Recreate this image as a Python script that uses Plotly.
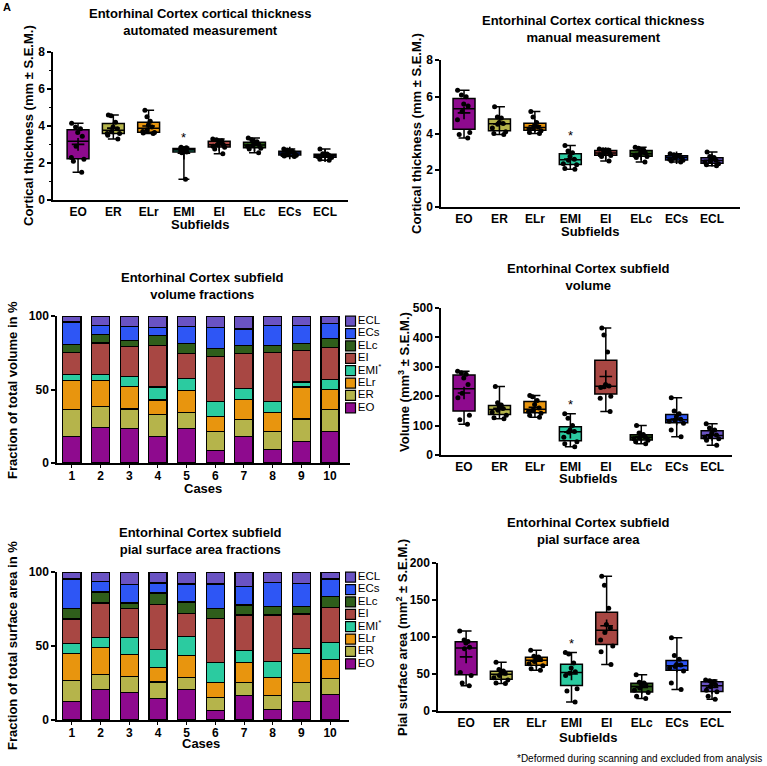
import numpy as np
import plotly.graph_objects as go

W, H = 767, 766
FONT = "Arial, Liberation Sans, Helvetica, sans-serif"

SUBFIELDS = ["EO", "ER", "ELr", "EMI", "EI", "ELc", "ECs", "ECL"]
LEGEND_LABELS = ["EO", "ER", "ELr", "EMI<sup>*</sup>", "EI", "ELc", "ECs", "ECL"]
COLORS = ["#8E0A8E", "#B5B44B", "#E8950E", "#2BCBA0", "#A84743", "#2F5E1B", "#2E56F5", "#6A53C3"]
CASES = [1, 2, 3, 4, 5, 6, 7, 8, 9, 10]

# Cortical thickness, automated (mm), per subfield
THICK_AUTO = [
    [4.15, 3.95, 3.85, 3.65, 3.45, 2.9, 2.3, 2.2, 2.1, 1.5],
    [4.6, 4.55, 4.2, 3.95, 3.85, 3.7, 3.6, 3.6, 3.5, 3.3],
    [4.85, 4.5, 4.25, 4.05, 3.95, 3.8, 3.7, 3.65, 3.62, 3.6],
    [2.85, 2.82, 2.78, 2.72, 2.7, 2.65, 2.6, 2.55, 1.12],
    [3.3, 3.25, 3.2, 3.1, 3.0, 2.98, 2.9, 2.85, 2.75, 2.5],
    [3.35, 3.25, 3.15, 3.05, 3.0, 2.95, 2.9, 2.8, 2.75, 2.55],
    [2.75, 2.7, 2.65, 2.6, 2.55, 2.52, 2.45, 2.42, 2.38, 2.35],
    [2.75, 2.5, 2.48, 2.45, 2.42, 2.4, 2.35, 2.3, 2.2, 2.15],
]
# Cortical thickness, manual (mm)
THICK_MANUAL = [
    [6.35, 6.1, 6.0, 5.6, 5.5, 5.2, 4.75, 4.05, 3.95, 3.75],
    [5.45, 4.9, 4.85, 4.6, 4.55, 4.5, 4.3, 4.1, 4.0, 3.95],
    [5.2, 4.9, 4.6, 4.45, 4.35, 4.3, 4.25, 4.15, 4.05, 4.0],
    [3.35, 3.05, 2.95, 2.75, 2.6, 2.55, 2.35, 2.3, 2.1, 2.05],
    [3.15, 3.12, 3.1, 3.0, 2.95, 2.92, 2.85, 2.8, 2.75, 2.5],
    [3.25, 3.2, 3.1, 3.0, 2.95, 2.85, 2.8, 2.75, 2.7, 2.45],
    [2.9, 2.85, 2.8, 2.75, 2.72, 2.68, 2.6, 2.55, 2.5, 2.45],
    [3.0, 2.75, 2.7, 2.6, 2.55, 2.5, 2.45, 2.35, 2.3, 2.25],
]
# Subfield volume (mm^3)
VOLUME = [
    [285, 280, 275, 262, 240, 210, 195, 135, 120, 105],
    [233, 178, 170, 165, 158, 152, 145, 135, 127, 123],
    [202, 198, 185, 172, 160, 152, 148, 142, 135, 128],
    [140, 125, 100, 85, 80, 78, 60, 45, 38, 28],
    [432, 408, 350, 240, 235, 232, 230, 200, 193, 148],
    [100, 75, 70, 65, 62, 58, 55, 50, 45, 38],
    [195, 150, 140, 130, 122, 118, 115, 108, 85, 62],
    [106, 92, 85, 75, 68, 65, 60, 55, 50, 33],
]
# Pial surface area (mm^2)
SURFACE = [
    [108, 96, 94, 92, 86, 84, 52, 48, 38, 34],
    [66, 56, 54, 53, 51, 48, 45, 42, 38, 37],
    [82, 74, 73, 71, 70, 67, 64, 61, 57, 55],
    [79, 77, 65, 58, 53, 51, 48, 30, 27, 12],
    [182, 170, 139, 117, 112, 106, 96, 88, 80, 63],
    [49, 39, 38, 36, 35, 31, 28, 25, 20, 17],
    [99, 75, 70, 63, 62, 60, 58, 54, 38, 29],
    [42, 41, 40, 38, 35, 33, 28, 26, 20, 16],
]
# Volume fractions (%) per subfield across cases 1..10
VOL_FRAC = [
    [18.3, 24.4, 23.3, 17.8, 23.5, 8.4, 17.8, 9.3, 14.4, 21.7],
    [18.0, 14.2, 13.5, 15.4, 11.0, 13.0, 12.0, 12.4, 15.6, 14.9],
    [19.9, 17.4, 15.3, 9.7, 14.7, 10.4, 13.5, 12.4, 21.7, 13.3],
    [3.8, 4.0, 7.0, 8.8, 8.4, 10.2, 7.5, 7.7, 3.4, 6.8],
    [15.2, 21.7, 20.4, 28.2, 17.1, 30.5, 23.7, 33.4, 21.4, 21.9],
    [5.4, 5.7, 3.8, 6.8, 6.8, 5.4, 5.4, 4.7, 5.0, 6.3],
    [15.3, 6.3, 9.5, 5.6, 11.3, 14.4, 11.3, 13.8, 12.2, 10.1],
    [4.1, 6.3, 7.2, 7.7, 7.2, 7.7, 8.8, 6.3, 6.3, 5.0],
]
# Pial surface area fractions (%)
SURF_FRAC = [
    [12.6, 20.5, 18.7, 14.7, 20.8, 6.3, 16.5, 7.2, 12.6, 17.2],
    [14.0, 10.4, 10.6, 11.0, 7.9, 9.0, 8.8, 9.1, 12.7, 11.0],
    [18.5, 18.1, 14.7, 10.0, 15.1, 10.0, 13.5, 12.4, 19.4, 12.9],
    [6.8, 6.5, 12.0, 11.9, 12.4, 13.8, 8.2, 10.8, 3.6, 11.3],
    [16.3, 23.5, 19.4, 30.5, 16.0, 29.5, 23.9, 31.4, 23.3, 23.7],
    [7.4, 7.5, 3.6, 7.7, 7.5, 6.8, 6.8, 5.8, 5.1, 7.4],
    [19.7, 7.0, 12.4, 6.8, 12.2, 16.5, 12.6, 16.3, 15.4, 11.8],
    [4.7, 6.5, 8.6, 7.4, 8.1, 8.1, 9.7, 7.0, 7.9, 4.7],
]


def fx(p):
    return p / W


def fy(p):
    return 1 - p / H


fig = go.Figure()
layout = {}
annotations = []


def refs(n):
    return ("x" if n == 1 else f"x{n}", "y" if n == 1 else f"y{n}",
            "xaxis" if n == 1 else f"xaxis{n}", "yaxis" if n == 1 else f"yaxis{n}")


def yaxis_style(ydom, yrange, dtick, xref, minor=False):
    d = dict(domain=[fy(ydom[1]), fy(ydom[0])], range=yrange, dtick=dtick, anchor=xref,
             showline=True, linecolor="black", linewidth=1.5, ticks="outside", ticklen=4,
             tickwidth=1.5, tickcolor="black", showgrid=False, zeroline=False,
             automargin=False,
             tickfont=dict(family=FONT, size=12, color="black", weight="bold"))
    if minor:
        d["minor"] = dict(dtick=dtick / 2, ticks="outside", ticklen=2, tickwidth=1.2, tickcolor="black")
    return d


def xaxis_style(xdom, xrange, yref, **kw):
    d = dict(domain=[fx(xdom[0]), fx(xdom[1])], range=xrange, anchor=yref,
             showline=True, linecolor="black", linewidth=1.5, ticks="outside", ticklen=3,
             tickwidth=1.2, tickcolor="black", showgrid=False, zeroline=False,
             automargin=False,
             tickfont=dict(family=FONT, size=12, color="black", weight="bold"))
    d.update(kw)
    return d


def text(x, y, s, size=13, angle=0, bold=True, xanchor="center", yanchor="middle"):
    annotations.append(dict(x=fx(x), y=fy(y), xref="paper", yref="paper", showarrow=False,
                            text=f"<b>{s}</b>" if bold else s, textangle=angle,
                            xanchor=xanchor, yanchor=yanchor,
                            font=dict(family=FONT, size=size, color="black")))


def box_panel(n, data, xdom, ydom, xrange, yrange, dtick, minor=False):
    xr, yr, xl, yl = refs(n)
    layout[xl] = xaxis_style(xdom, xrange, yr, type="category", categoryarray=SUBFIELDS,
                             categoryorder="array", ticks="", ticklen=0)
    layout[yl] = yaxis_style(ydom, yrange, dtick, xr, minor)
    for name, vals, col in zip(SUBFIELDS, data, COLORS):
        v = np.array(vals, dtype=float)
        q1, med, q3 = np.percentile(v, [25, 50, 75])
        fig.add_trace(go.Box(x=[name], q1=[q1], median=[med], q3=[q3],
                             lowerfence=[v.min()], upperfence=[v.max()],
                             fillcolor=col, line=dict(color="black", width=1.5),
                             width=0.62, whiskerwidth=0.5, boxpoints=False,
                             xaxis=xr, yaxis=yr, showlegend=False))
        fig.add_trace(go.Box(x=[name] * len(v), y=v, boxpoints="all", jitter=0.8, pointpos=0,
                             fillcolor="rgba(0,0,0,0)",
                             line=dict(color="rgba(0,0,0,0)", width=0),
                             marker=dict(color="black", size=5), width=0.62,
                             xaxis=xr, yaxis=yr, showlegend=False))
        fig.add_trace(go.Scatter(x=[name], y=[v.mean()], mode="markers",
                                 marker=dict(symbol="cross-thin", size=9,
                                             line=dict(color="black", width=1.6)),
                                 xaxis=xr, yaxis=yr, showlegend=False))
        if name == "EMI":
            annotations.append(dict(x=name, y=v.max(), xref=xr, yref=yr, text="*",
                                    showarrow=False, yanchor="bottom", yshift=0,
                                    font=dict(family=FONT, size=13, color="black")))


def bar_panel(n, data, xdom, ydom, xrange, leg_n, leg_ydom, leg_xdom):
    xr, yr, xl, yl = refs(n)
    layout[xl] = xaxis_style(xdom, xrange, yr, tickvals=CASES, ticktext=[str(c) for c in CASES],
                             ticklabelstandoff=-2)
    layout[yl] = yaxis_style(ydom, [0, 100], 50, xr)
    for name, vals, col in zip(SUBFIELDS, data, COLORS):
        fig.add_trace(go.Bar(x=CASES, y=vals, name=name, width=0.63,
                             marker=dict(color=col, line=dict(color="black", width=1.2)),
                             xaxis=xr, yaxis=yr, showlegend=False))
    # legend drawn on its own small axis
    lxr, lyr, lxl, lyl = refs(leg_n)
    layout[lxl] = dict(domain=[fx(leg_xdom[0]), fx(leg_xdom[1])], range=[0, 50], visible=False,
                       anchor=lyr, fixedrange=True, automargin=False)
    layout[lyl] = dict(domain=[fy(leg_ydom[1]), fy(leg_ydom[0])], type="category",
                       categoryarray=SUBFIELDS, categoryorder="array", range=[-0.5, 7.5],
                       visible=False, anchor=lxr, fixedrange=True, automargin=False)
    fig.add_trace(go.Scatter(x=[5] * len(SUBFIELDS), y=SUBFIELDS, mode="markers+text",
                             text=LEGEND_LABELS, textposition="middle right",
                             textfont=dict(family=FONT, size=11.5, color="black"),
                             marker=dict(symbol="square", size=10, color=COLORS,
                                         line=dict(color="black", width=1.2)),
                             xaxis=lxr, yaxis=lyr, showlegend=False, hoverinfo="skip"))


# Panel A: automated thickness
box_panel(1, THICK_AUTO, (53, 348), (52, 200), [-0.71, 7.65], [0, 8], 2, minor=True)
text(200, 22, "Entorhinal Cortex cortical thickness<br>automated measurement")
text(28, 126, "Cortical thickness (mm ± S.E.M.)", angle=-90)
text(200, 225, "Subfields")

# Panel B: manual thickness
box_panel(2, THICK_MANUAL, (441, 740), (60, 207), [-0.65, 7.79], [0, 8], 2)
text(593, 29, "Entorhinal Cortex cortical thickness<br>manual measurement")
text(416, 134, "Cortical thickness (mm ± S.E.M.)", angle=-90)
text(590, 231, "Subfields")

# Panel C: volume fractions
bar_panel(3, VOL_FRAC, (57, 350), (316, 463), [0.48, 10.7], 7, (315, 414), (345, 400))
text(203, 286, "Entorhinal Cortex subfield<br>volume fractions")
text(12, 390, "Fraction of total volume in %", angle=-90)
text(203, 488, "Cases")

# Panel D: volume
box_panel(4, VOLUME, (441, 732), (308, 455), [-0.65, 7.56], [0, 500], 100)
text(588, 277, "Entorhinal Cortex subfield<br>volume")
text(404, 382, "Volume (mm<sup>3</sup> ± S.E.M.)", angle=-90)
text(588, 479, "Subfields")

# Panel E: surface area fractions
bar_panel(5, SURF_FRAC, (57, 349), (572, 720), [0.48, 10.66], 8, (571, 670), (345, 400))
text(201, 541, "Entorhinal Cortex subfield<br>pial surface area fractions")
text(12, 646, "Fraction of total surface area in %", angle=-90)
text(201, 743, "Cases")

# Panel F: pial surface area
box_panel(6, SURFACE, (438, 731), (563, 711), [-0.80, 7.54], [0, 200], 50)
text(588, 531, "Entorhinal Cortex subfield<br>pial surface area")
text(402, 637, "Pial surface area (mm<sup>2</sup> ± S.E.M.)", angle=-90)
text(588, 737, "Subfields")

text(764, 758, "*Deformed during scanning and excluded from analysis", 10, bold=False,
     xanchor="right")
text(1, 7, "A", 11, xanchor="left")

fig.update_layout(**layout)
fig.update_layout(width=W, height=H,
                  margin=dict(l=0, r=0, t=0, b=0, pad=0, autoexpand=False),
                  paper_bgcolor="white", plot_bgcolor="white",
                  barmode="stack", boxmode="overlay", showlegend=False,
                  annotations=annotations, font=dict(family=FONT, color="black"))

POST = ("document.documentElement.style.margin='0';"
        "document.documentElement.style.overflow='hidden';"
        "document.body.style.margin='0';document.body.style.padding='0';"
        "document.body.style.overflow='hidden';"
        "var gd=document.getElementById('{plot_id}');"
        "gd.style.position='fixed';gd.style.left='0px';gd.style.top='0px';")

fig.write_html("out.html", config={"displayModeBar": False, "responsive": False},
               post_script=POST)
